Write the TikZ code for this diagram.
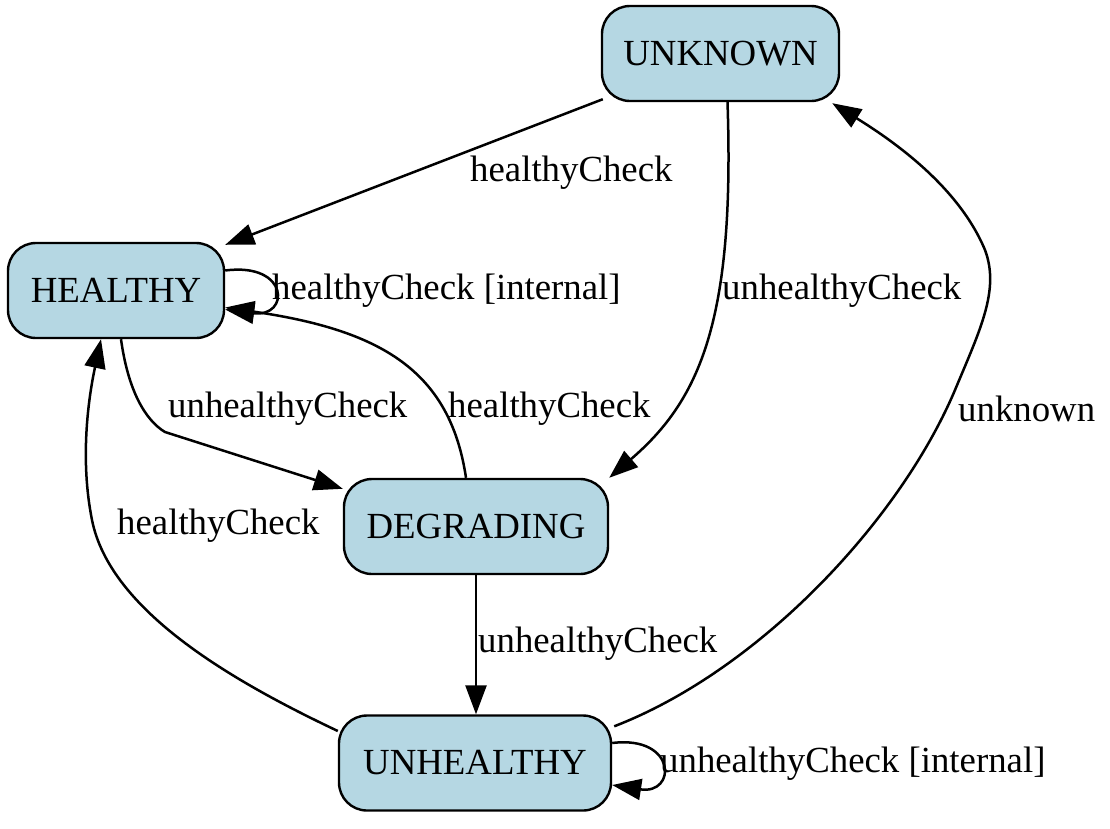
\documentclass[tikz,border=0pt]{standalone}
\usepackage{fontspec}
\setmainfont{Liberation Serif}
\usetikzlibrary{arrows.meta,calc}
\definecolor{statefill}{RGB}{181,215,227}
\begin{document}
\begin{tikzpicture}[x=1pt,y=-1pt,
  state/.style={draw=black,line width=2.4pt,fill=statefill,rounded corners=28pt,
    minimum height=95pt,inner sep=0pt,font=\fontsize{36.8pt}{44pt}\selectfont},
  lbl/.style={anchor=west,inner sep=0pt,font=\fontsize{36.8pt}{44pt}\selectfont},
  edge/.style={draw=black,line width=2.5pt,-{Triangle[length=29pt,width=21pt]}}]
\useasboundingbox (0,0) rectangle (1110,828);

\node[state,minimum width=237pt] (unk) at (720.5,53.5) {UNKNOWN};
\node[state,minimum width=216pt] (hea) at (116,290.5) {HEALTHY};
\node[state,minimum width=264pt] (deg) at (476,526.5) {DEGRADING};
\node[state,minimum width=272pt] (unh) at (475,763) {UNHEALTHY};

% UNKNOWN -> HEALTHY
\draw[edge] ($(unk.south west)+(2,-3)$) -- ($(hea.north east)+(0,3)$);
\node[lbl] (l1) at (470,173) {healthyCheck};

% UNKNOWN -> DEGRADING
\draw[edge] ($(unk.south)+(7,0)$) .. controls (735,320) and (700,400) .. (deg.north east);
\node[lbl] (l2) at (722,291) {unhealthyCheck};

% HEALTHY self loop
\draw[edge] ($(hea.east)+(0,-20)$) .. controls (290,262) and (290,318) .. ($(hea.east)+(0,19)$);
\node[lbl] (l3) at (272,291) {healthyCheck [internal]};

% HEALTHY -> DEGRADING
\draw[edge] ($(hea.south)+(5,0)$) .. controls (128,390) and (145,420) .. (165,432) -- ($(deg.north west)+(0,11)$);
\node[lbl] (l4) at (168,409) {unhealthyCheck};

% DEGRADING -> HEALTHY
\draw[edge] ($(deg.north)+(-10,0)$) .. controls (450,370) and (380,330) .. ($(hea.east)+(0,17)$);
\node[lbl] (l5) at (448,409) {healthyCheck};

% UNHEALTHY -> HEALTHY
\draw[edge] ($(unh.west)+(0,-32)$) .. controls (230,680) and (110,610) .. (92,520)
  .. controls (80,460) and (88,400) .. ($(hea.south)+(-15,0)$);
\node[lbl] (l6) at (117,526) {healthyCheck};

% DEGRADING -> UNHEALTHY
\draw[edge] (deg.south) -- (deg.south |- unh.north);
\node[lbl] (l7) at (478,644) {unhealthyCheck};

% UNHEALTHY -> UNKNOWN
\draw[edge] ($(unh.north east)+(2,12)$) .. controls (760,670) and (900,520) .. (955,390)
  .. controls (980,330) and (1000,290) .. (985,250)
  .. controls (960,190) and (900,145) .. ($(unk.south east)+(-8,1)$);
\node[lbl] (l8) at (958,409) {unknown};

% UNHEALTHY self loop
\draw[edge] ($(unh.east)+(0,-20)$) .. controls (677,735) and (677,795) .. ($(unh.east)+(0,22)$);
\node[lbl] (l9) at (660,764) {unhealthyCheck [internal]};
\end{tikzpicture}
\end{document}
